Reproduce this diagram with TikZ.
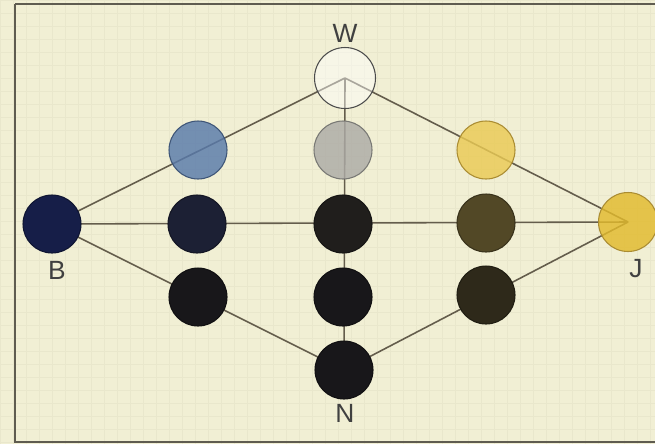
\documentclass[tikz,border=0pt]{standalone}
\usepackage{fontspec}
\setmainfont{Liberation Sans}
\usetikzlibrary{backgrounds}

\definecolor{paper}{RGB}{241,239,212}
\definecolor{gridline}{RGB}{233,231,204}
\definecolor{frameline}{RGB}{95,92,80}
\definecolor{linkline}{RGB}{100,93,76}
\definecolor{skyblue}{RGB}{88,122,170}
\definecolor{navy}{RGB}{22,30,72}
\definecolor{darknavy}{RGB}{28,32,52}
\definecolor{nearblack}{RGB}{24,23,26}
\definecolor{midgray}{RGB}{172,171,166}
\definecolor{coal}{RGB}{32,30,28}
\definecolor{lightyellow}{RGB}{234,202,84}
\definecolor{olive}{RGB}{82,72,38}
\definecolor{darkolive}{RGB}{46,41,26}
\definecolor{gold}{RGB}{226,186,44}
\definecolor{goldline}{RGB}{170,140,50}

\begin{document}
\begin{tikzpicture}[
    x=0.02cm, y=-0.02cm,
    dot/.style={
        circle,
        draw=#1!70!black,
        fill=#1,
        line width=0.6pt,
        minimum size=1.16cm,
        inner sep=0pt
    },
    lightdot/.style={
        dot=#1,
        fill opacity=0.82
    },
    link/.style={
        draw=linkline,
        line width=0.9pt
    },
    tag/.style={
        font=\fontsize{15}{18}\selectfont,
        text=black!75
    }
]

\useasboundingbox (0,0) rectangle (655,444);

% colour nodes
\node[lightdot=white, draw=black!70, fill opacity=0.45, minimum size=1.22cm] (W) at (345,78) {};
\node[dot=navy] (B) at (52,224) {};
\node[lightdot=gold, draw=goldline, minimum size=1.18cm] (J) at (628,222) {};
\node[dot=nearblack] (N) at (344,370) {};

\node[lightdot=skyblue] (b1) at (198,150) {};
\node[dot=darknavy] (b2) at (197,224) {};
\node[dot=nearblack] (b3) at (198,297) {};

\node[lightdot=midgray] (g1) at (343,150) {};
\node[dot=coal] (g2) at (343,224) {};
\node[dot=nearblack] (g3) at (343,297) {};

\node[lightdot=lightyellow, draw=goldline] (y1) at (486,150) {};
\node[dot=olive] (y2) at (486,223) {};
\node[dot=darkolive] (y3) at (486,295) {};

% labels
\node[tag] (lw) at (345,33) {W};
\node[tag] (lb) at (57,270) {B};
\node[tag] (lj) at (636,269) {J};
\node[tag] (ln) at (345,413) {N};

\begin{scope}[on background layer]
\fill[paper] (0,0) rectangle (655,444);
\draw[gridline, step=0.26cm] (0,0) grid (655,444);
\draw[frameline, line width=1pt] (15,4) -- (660,4);
\draw[frameline, line width=1pt] (15,4) -- (15,442) -- (660,442);
% connectors
\draw[link] (W.center) -- (B.center);
\draw[link] (W.center) -- (J.center);
\draw[link] (W.center) -- (N.center);
\draw[link] (B.center) -- (J.center);
\draw[link] (B.center) -- (N.center);
\draw[link] (J.center) -- (N.center);
\end{scope}

\end{tikzpicture}
\end{document}
